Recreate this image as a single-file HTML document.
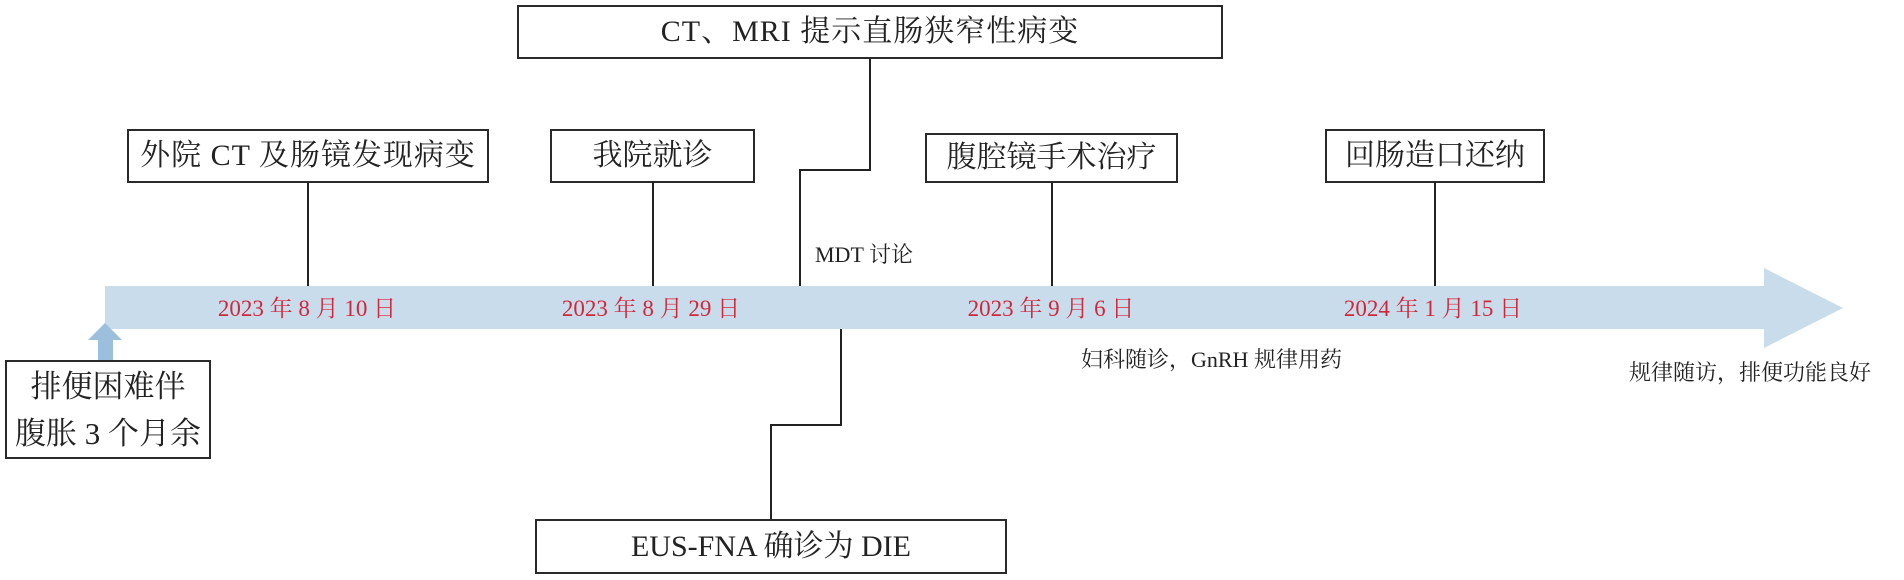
<!DOCTYPE html>
<html><head><meta charset="utf-8"><style>
html,body{margin:0;padding:0;background:#fff;}
#c{position:relative;width:1904px;height:580px;overflow:hidden;font-family:"Liberation Serif","Noto Serif CJK SC",serif;color:#222;}
.b{position:absolute;box-sizing:border-box;border:2px solid #2a2a2a;background:#fff;display:flex;align-items:center;justify-content:center;font-size:30px;white-space:nowrap;line-height:1;text-align:center;}
.t{position:absolute;white-space:nowrap;line-height:1;}
.d{color:#d0283a;font-size:23px;transform:translateX(-50%);}
</style></head><body><div id="c">
<svg width="1904" height="580" style="position:absolute;left:0;top:0">
<polygon points="105,286 1764,286 1764,268 1843,308 1764,348 1764,329 105,329" fill="#c9dcec"/>
<polygon points="105,323 122,340 113,340 113,360 98,360 98,340 88,340" fill="#9bbfdc"/>
<g stroke="#222" stroke-width="2" fill="none">
<line x1="308" y1="183" x2="308" y2="286"/>
<line x1="653" y1="183" x2="653" y2="286"/>
<polyline points="870,59 870,170 800,170 800,286"/>
<polyline points="841,329 841,425 771,425 771,519"/>
<line x1="1052" y1="183" x2="1052" y2="286"/>
<line x1="1435" y1="183" x2="1435" y2="286"/>
</g>
</svg>
<div class="b" style="left:517px;top:5px;width:706px;height:54px;letter-spacing:1px">CT、MRI 提示直肠狭窄性病变</div>
<div class="b" style="left:127px;top:129px;width:362px;height:54px;letter-spacing:1px">外院 CT 及肠镜发现病变</div>
<div class="b" style="left:550px;top:129px;width:205px;height:54px">我院就诊</div>
<div class="b" style="left:925px;top:133px;width:253px;height:50px">腹腔镜手术治疗</div>
<div class="b" style="left:1325px;top:129px;width:220px;height:54px">回肠造口还纳</div>
<div class="b" style="left:535px;top:519px;width:472px;height:55px">EUS-FNA 确诊为 DIE</div>
<div class="b" style="left:5px;top:360px;width:206px;height:99px;flex-direction:column;font-size:31px;line-height:47px;align-items:center">排便困难伴<br>腹胀 3 个月余</div>
<div class="t" style="left:815px;top:244px;font-size:22px">MDT 讨论</div>
<div class="t d" style="left:307px;top:297px">2023 年 8 月 10 日</div>
<div class="t d" style="left:651px;top:297px">2023 年 8 月 29 日</div>
<div class="t d" style="left:1051px;top:297px">2023 年 9 月 6 日</div>
<div class="t d" style="left:1433px;top:297px">2024 年 1 月 15 日</div>
<div class="t" style="left:1081px;top:349px;font-size:22px">妇科随诊，GnRH 规律用药</div>
<div class="t" style="left:1629px;top:362px;font-size:22px">规律随访，排便功能良好</div>
</div></body></html>
